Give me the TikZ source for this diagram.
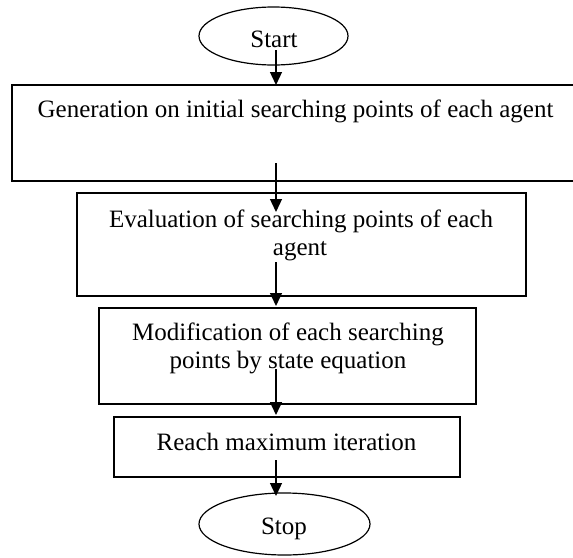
\documentclass[tikz,border=0pt]{standalone}
\usepackage{fontspec}
\setmainfont{Liberation Serif}
\usetikzlibrary{arrows.meta,shapes.geometric}
\begin{document}
\begin{tikzpicture}[x=1pt,y=-1pt,
  box/.style={draw,line width=1.2pt,rectangle,inner sep=0pt},
  oval/.style={draw,line width=1.2pt,ellipse,inner sep=0pt},
  txt/.style={anchor=base,inner sep=0pt,font=\fontsize{25}{28.75}\selectfont},
  arr/.style={line width=1.3pt,-{Triangle[length=13pt,width=12pt]}}]
\useasboundingbox (0,0) rectangle (573,557);
% shapes
\node[oval,minimum width=149pt,minimum height=58pt] (start) at (273.5,36) {};
\node[box,line width=1.6pt,minimum width=567pt,minimum height=96pt] (gen) at (295.5,133) {};
\node[box,minimum width=449pt,minimum height=103pt] (eval) at (301.5,244.5) {};
\node[box,minimum width=377pt,minimum height=96pt] (mod) at (287.5,356) {};
\node[box,minimum width=346pt,minimum height=60pt] (reach) at (287,447) {};
\node[oval,minimum width=171pt,minimum height=62pt] (stop) at (284.5,524) {};
% texts
\node[txt] (tstart) at (274,47) {Start};
\node[txt] (tgen) at (295.5,117) {Generation on initial searching points of each agent};
\node[txt] (teval1) at (301,227.5) {Evaluation of searching points of each};
\node[txt] (teval2) at (300,255.5) {agent};
\node[txt] (tmod1) at (288,340) {Modification of each searching};
\node[txt] (tmod2) at (288,368) {points by state equation};
\node[txt] (treach) at (286.5,450) {Reach maximum iteration};
\node[txt] (tstop) at (284,534) {Stop};
% arrow ends
\coordinate (a1s) at (276,50);  \coordinate (a1e) at (276,85);
\coordinate (a2s) at (276,163); \coordinate (a2e) at (276,212);
\coordinate (a3s) at (276,262); \coordinate (a3e) at (276,306);
\coordinate (a4s) at (276,369); \coordinate (a4e) at (276,415);
\coordinate (a5s) at (276,460); \coordinate (a5e) at (276,496);
\draw[arr] (a1s) -- (a1e);
\draw[arr] (a2s) -- (a2e);
\draw[arr] (a3s) -- (a3e);
\draw[arr] (a4s) -- (a4e);
\draw[arr] (a5s) -- (a5e);
\end{tikzpicture}
\end{document}
